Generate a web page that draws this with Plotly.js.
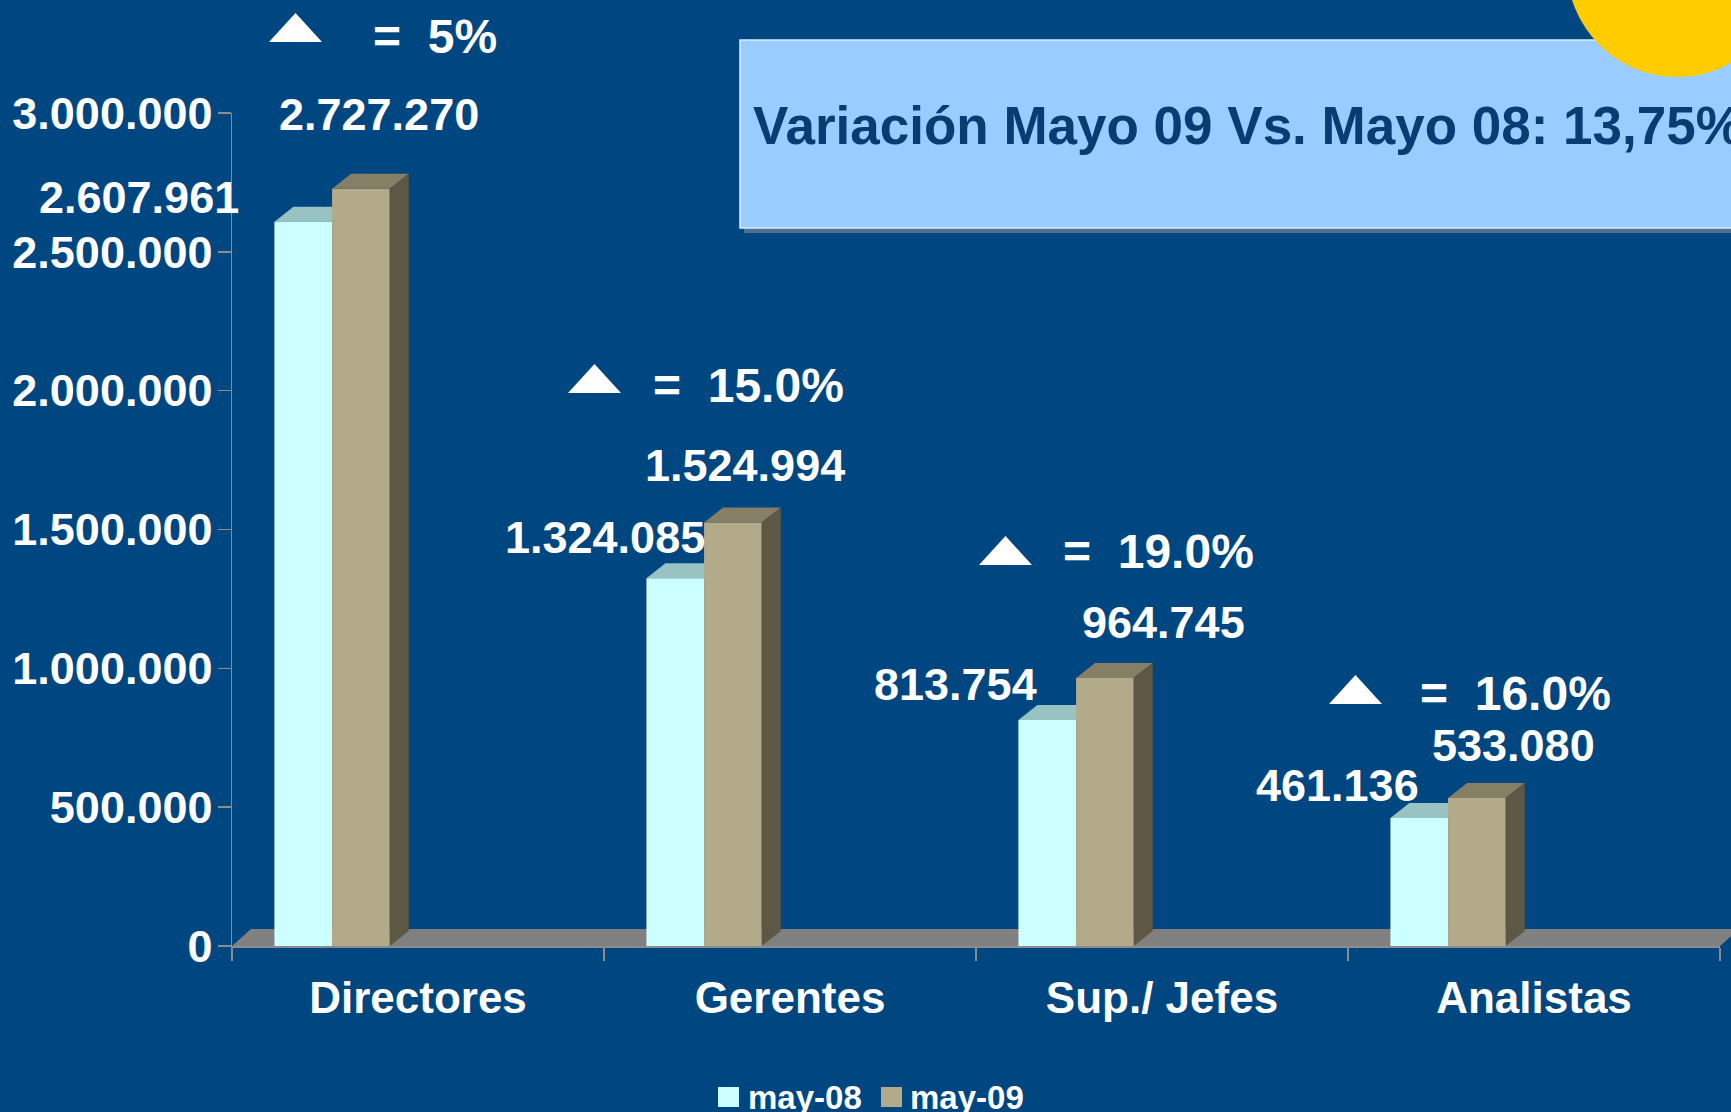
<!DOCTYPE html>
<html>
<head>
<meta charset="utf-8">
<script src="https://cdn.plot.ly/plotly-3.0.1.min.js"></script>
<style>
  html, body { margin: 0; padding: 0; background: #004680; }
  #chart { width: 1731px; height: 1112px; }
</style>
</head>
<body>
<div id="chart"></div>
<script>
// ---------------- data ----------------
const categories = ['Directores', 'Gerentes', 'Sup./ Jefes', 'Analistas'];
const seriesNames = ['may-08', 'may-09'];
const may08 = [2607961, 1324085, 813754, 461136];
const may09 = [2727270, 1524994, 964745, 533080];
const variation = ['5%', '15.0%', '19.0%', '16.0%'];
const yTickVals = [0, 500000, 1000000, 1500000, 2000000, 2500000, 3000000];
const titleText = 'Variación Mayo 09 Vs. Mayo 08: 13,75%';

// ---------------- layout constants ----------------
const W = 1731, H = 1112;
const M = { l: 232, r: 11, t: 113, b: 166 };
const PW = W - M.l - M.r, PH = H - M.t - M.b;
const YMAX = 3000000;
const X0 = -0.5, X1 = 3.5;
const FONT = 'Liberation Sans, Arial, Helvetica, sans-serif';

const BG = '#004680';
const C08 = '#CCFFFF', C08TOP = '#99C2C2';
const C09 = '#B3AA8A', C09TOP = '#857F66', C09SIDE = '#5C5845';
const FLOOR = '#808080';

const barWidth = 0.155;
const offsets = [-0.386, -0.231];
const depthPxX = 19, depthPxY = 15;
const ddx = depthPxX * (X1 - X0) / PW;
const ddy = depthPxY * YMAX / PH;

// label offsets (pixels) relative to bar top centre
const lab08dx = [-164, -70, -92, -82], lab08up = [24, 41, 36, 32];
const lab09dx = [18, 12, 59, 37], lab09up = [74, 57, 56, 52];
// delta markers (pixels)
const triLeft = [269, 568, 979, 1329], triBottom = [42, 393, 565, 704];
const triW = 53, triH = 29;
const eqLeft = [371, 651, 1061, 1418], eqMidY = [37, 386, 551, 693];

function fmt(v) { return String(v).replace(/\B(?=(\d{3})+(?!\d))/g, '.'); }
function pxX(px) { return (px - M.l) / PW; }
function pxY(py) { return (H - M.b - py) / PH; }

// ---------------- traces ----------------
const traces = [may08, may09].map((vals, s) => ({
  type: 'bar',
  name: seriesNames[s],
  x: categories,
  y: vals,
  width: categories.map(() => barWidth),
  offset: categories.map(() => offsets[s]),
  marker: { color: s === 0 ? C08 : C09, line: { width: 0 } },
  showlegend: false,
  hoverinfo: 'x+y+name'
}));

// ---------------- shapes ----------------
const shapes = [];
// title box shadow + box
shapes.push({ type: 'rect', xref: 'paper', yref: 'paper', layer: 'below',
  x0: pxX(744), x1: pxX(1760), y0: pxY(233), y1: pxY(45),
  fillcolor: '#50708F', line: { width: 0 } });
shapes.push({ type: 'rect', xref: 'paper', yref: 'paper', layer: 'below',
  x0: pxX(740), x1: pxX(1760), y0: pxY(228), y1: pxY(40),
  fillcolor: '#99CCFF', line: { color: '#D8ECFF', width: 1.5 } });
// yellow sun
shapes.push({ type: 'circle', xref: 'paper', yref: 'paper', layer: 'above',
  x0: pxX(1677 - 110), x1: pxX(1677 + 110), y0: pxY(-33 + 110), y1: pxY(-33 - 110),
  fillcolor: '#FFCC00', line: { width: 0 } });
// floor
{
  const fx = depthPxX / PW, fy = 17 / PH;
  shapes.push({ type: 'path', xref: 'paper', yref: 'paper', layer: 'below',
    path: `M0,0 L1,0 L${1 + fx},${fy} L${fx},${fy} Z`,
    fillcolor: FLOOR, line: { width: 0 } });
}
// 3D tops and sides
[may08, may09].forEach((vals, s) => {
  vals.forEach((v, k) => {
    const xa = k + offsets[s], xb = xa + barWidth;
    shapes.push({ type: 'path', xref: 'x', yref: 'y', layer: s === 0 ? 'below' : 'above',
      path: `M${xa},${v} L${xb},${v} L${xb + ddx},${v + ddy} L${xa + ddx},${v + ddy} Z`,
      fillcolor: s === 0 ? C08TOP : C09TOP, line: { width: 0 } });
    if (s === 1) {
      shapes.push({ type: 'path', xref: 'x', yref: 'y', layer: 'above',
        path: `M${xb},0 L${xb},${v} L${xb + ddx},${v + ddy} L${xb + ddx},${ddy} Z`,
        fillcolor: C09SIDE, line: { width: 0 } });
    }
  });
});
// delta triangles
triLeft.forEach((l, k) => {
  const b = triBottom[k];
  shapes.push({ type: 'path', xref: 'paper', yref: 'paper', layer: 'above',
    path: `M${pxX(l)},${pxY(b)} L${pxX(l + triW)},${pxY(b)} L${pxX(l + triW / 2)},${pxY(b - triH)} Z`,
    fillcolor: '#FFFFFF', line: { width: 0 } });
});
// manual legend patches
const legSq = [718, 881];
legSq.forEach((x, s) => {
  shapes.push({ type: 'rect', xref: 'paper', yref: 'paper', layer: 'above',
    x0: pxX(x), x1: pxX(x + 21), y0: pxY(1107), y1: pxY(1087),
    fillcolor: s === 0 ? C08 : C09, line: { width: 0 } });
});

// ---------------- annotations ----------------
const annotations = [];
const white = { family: FONT, size: 45, color: '#FFFFFF', weight: 'bold' };
[may08, may09].forEach((vals, s) => {
  vals.forEach((v, k) => {
    annotations.push({
      xref: 'x', yref: 'y', x: k + offsets[s] + barWidth / 2, y: v,
      xanchor: 'center', yanchor: 'middle',
      xshift: s === 0 ? lab08dx[k] : lab09dx[k],
      yshift: s === 0 ? lab08up[k] : lab09up[k],
      text: fmt(v), showarrow: false, font: white
    });
  });
});
variation.forEach((t, k) => {
  annotations.push({
    xref: 'paper', yref: 'paper', x: pxX(eqLeft[k]), y: pxY(eqMidY[k]),
    xanchor: 'left', yanchor: 'middle',
    text: '=\u00A0\u00A0' + t, showarrow: false,
    font: { family: FONT, size: 48, color: '#FFFFFF', weight: 'bold' }
  });
});
const legText = [747, 909];
legText.forEach((x, s) => {
  annotations.push({
    xref: 'paper', yref: 'paper', x: pxX(x), y: pxY(1097),
    xanchor: 'left', yanchor: 'middle', text: seriesNames[s], showarrow: false,
    borderpad: 0,
    font: { family: FONT, size: 33, color: '#FFFFFF', weight: 'bold' }
  });
});

// ---------------- layout ----------------
const layout = {
  width: W, height: H,
  margin: M,
  paper_bgcolor: BG, plot_bgcolor: 'rgba(0,0,0,0)',
  separators: ',.',
  barmode: 'overlay',
  title: {
    text: titleText, xref: 'container', yref: 'container',
    x: 753 / W, xanchor: 'left', y: 1 - 125 / H, yanchor: 'middle',
    font: { family: FONT, size: 53, color: '#0A3C74', weight: 'bold' }
  },
  xaxis: {
    type: 'category', categoryorder: 'array', categoryarray: categories,
    range: [X0, X1], fixedrange: true,
    tickson: 'boundaries', ticks: 'outside', ticklen: 13, tickwidth: 1.5, tickcolor: '#8C8C8C',
    showline: true, linecolor: '#8C8C8C', linewidth: 1.5,
    showgrid: false, zeroline: false,
    ticklabelstandoff: 13,
    tickfont: { family: FONT, size: 44, color: '#FFFFFF', weight: 'bold' }
  },
  yaxis: {
    range: [0, YMAX], fixedrange: true,
    tickvals: yTickVals, ticktext: yTickVals.map(fmt),
    ticks: 'outside', ticklen: 13, tickwidth: 1.5, tickcolor: '#8C8C8C',
    showline: true, linecolor: '#8C8C8C', linewidth: 1.5,
    showgrid: false, zeroline: false,
    ticklabelstandoff: -4,
    tickfont: { family: FONT, size: 45, color: '#FFFFFF', weight: 'bold' }
  },
  shapes: shapes,
  annotations: annotations,
  showlegend: false
};

Plotly.newPlot('chart', traces, layout, { displayModeBar: false, staticPlot: true });
</script>
</body>
</html>
